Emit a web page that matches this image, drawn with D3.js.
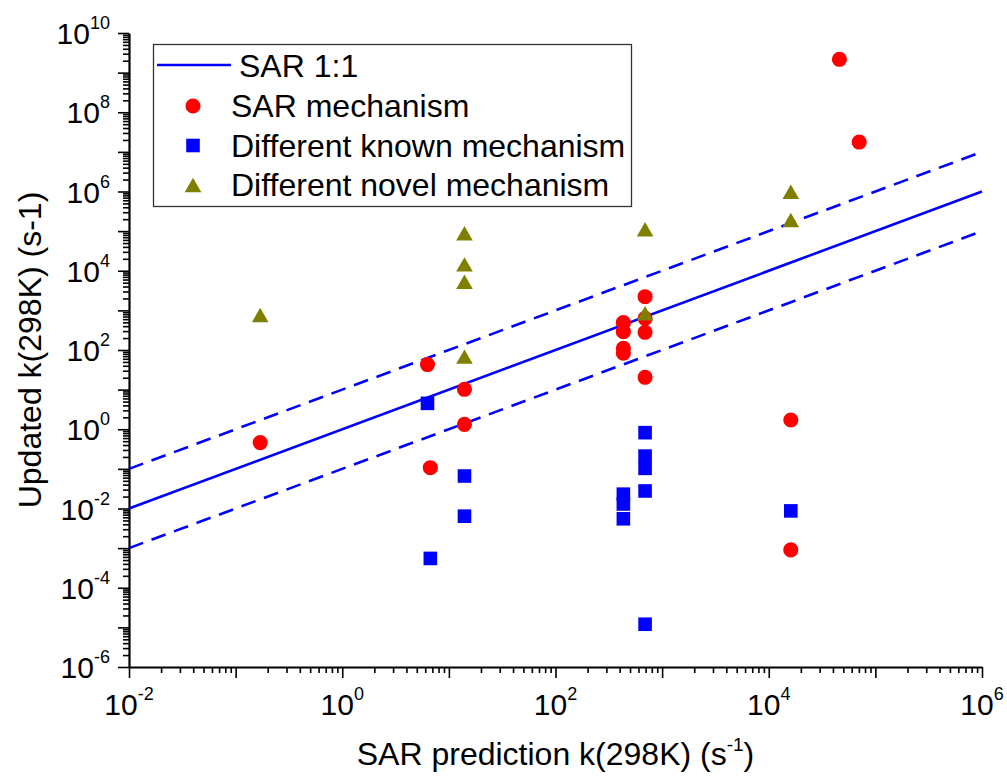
<!DOCTYPE html>
<html>
<head>
<meta charset="utf-8">
<script src="https://cdn.jsdelivr.net/npm/d3@7"></script>
<style>
  body { margin: 0; background: #fff; }
  text { font-family: "Liberation Sans", Arial, sans-serif; fill: #000; }
</style>
</head>
<body>
<svg id="chart" width="1007" height="777"></svg>
<script>
// values, rate constants in s^-1: [SAR prediction, updated]
const sarMechanism = [
  [0.17, 0.46], [6.3, 43], [6.7, 0.107], [14, 10.2], [14, 1.33],
  [433, 489], [433, 290], [433, 110], [433, 83],
  [692, 2210], [692, 630], [692, 280], [692, 20.5],
  [46000, 2.17e9], [70500, 1.77e7], [16100, 1.71], [16100, 9e-4]
];
const knownMechanism = [
  [6.3, 4.5], [6.7, 5.5e-4], [14, 0.066], [14, 0.0064],
  [433, 0.023], [433, 0.013], [433, 0.0055],
  [692, 0.82], [692, 0.21], [692, 0.103], [692, 0.0277], [692, 1.2e-5],
  [16100, 0.0087]
];
const novelMechanism = [
  [0.17, 764], [14, 88000], [14, 14500], [14, 5300], [14, 68],
  [692, 111000], [692, 843], [16100, 988000], [16100, 190000]
];
// 1:1 line and factor-of-ten bands
const ratioFactors = [1, 10, 0.1];
const xDomain = [1e-2, 1e6];
const yDomain = [1e-6, 1e10];
const legendLabels = ["SAR 1:1", "SAR mechanism", "Different known mechanism", "Different novel mechanism"];

const svg = d3.select("#chart");
const plotLeft = 129, plotRight = 982, plotTop = 33, plotBottom = 667;

const x = d3.scaleLog().domain(xDomain).range([plotLeft, plotRight]);
const y = d3.scaleLog().domain(yDomain).range([plotBottom, plotTop]);

// decades and the 2..9 steps between them
function decades(domain) {
  const out = [];
  for (let e = Math.log10(domain[0]); e <= Math.log10(domain[1]); e++) out.push(e);
  return out;
}
function minors(domain) {
  const out = [];
  decades(domain).slice(0, -1).forEach(e => {
    for (let m = 2; m <= 9; m++) out.push(m * Math.pow(10, e));
  });
  return out;
}
const xDec = decades(xDomain), yDec = decades(yDomain);

// bottom axis
const gx = svg.append("g").attr("transform", `translate(0,${plotBottom})`);
gx.call(d3.axisBottom(x).tickValues(minors(xDomain)).tickSize(6).tickSizeOuter(0).tickFormat(""));
gx.call(g => g.select(".domain").remove());
const gx2 = svg.append("g").attr("transform", `translate(0,${plotBottom})`);
gx2.call(d3.axisBottom(x).tickValues(xDec.map(e => Math.pow(10, e))).tickSize(11).tickSizeOuter(0).tickFormat(""));

// left axis
const gy = svg.append("g").attr("transform", `translate(${plotLeft},0)`);
gy.call(d3.axisLeft(y).tickValues(minors(yDomain)).tickSize(6).tickSizeOuter(0).tickFormat(""));
gy.call(g => g.select(".domain").remove());
const gy2 = svg.append("g").attr("transform", `translate(${plotLeft},0)`);
gy2.call(d3.axisLeft(y).tickValues(yDec.map(e => Math.pow(10, e))).tickSize(11).tickSizeOuter(0).tickFormat(""));

svg.selectAll(".tick line").attr("stroke", "#000").attr("stroke-width", 1.6);
svg.selectAll(".domain").attr("stroke", "#000").attr("stroke-width", 2.2);

// power-of-ten labels on every second decade
function powerLabel(sel, e) {
  sel.append("tspan").text("10");
  sel.append("tspan").attr("font-size", 18).attr("dy", -15).text(e);
}
xDec.filter(e => e % 2 === 0).forEach(e => {
  svg.append("text")
    .attr("x", x(Math.pow(10, e)))
    .attr("y", plotBottom + 48)
    .attr("text-anchor", "middle")
    .attr("font-size", 30)
    .call(powerLabel, e);
});
yDec.filter(e => e % 2 === 0).forEach(e => {
  svg.append("text")
    .attr("x", 110)
    .attr("y", y(Math.pow(10, e)) + 11)
    .attr("text-anchor", "end")
    .attr("font-size", 30)
    .call(powerLabel, e);
});

// axis titles
const xt = svg.append("text")
  .attr("x", (plotLeft + plotRight) / 2)
  .attr("y", 765)
  .attr("text-anchor", "middle")
  .attr("font-size", 32);
xt.append("tspan").text("SAR prediction k(298K) (s");
xt.append("tspan").attr("font-size", 19).attr("dy", -14).text("-1");
xt.append("tspan").attr("dy", 14).text(")");

svg.append("text")
  .attr("transform", `translate(41,${(plotTop + plotBottom) / 2}) rotate(-90)`)
  .attr("text-anchor", "middle")
  .attr("font-size", 32)
  .text("Updated k(298K) (s-1)");

// 1:1 and +/- one order of magnitude lines
const line = d3.line().x(d => x(d[0])).y(d => y(d[1]));
ratioFactors.forEach(f => {
  svg.append("path")
    .attr("d", line(xDomain.map(v => [v, v * f])))
    .attr("fill", "none")
    .attr("stroke", "#0000ff")
    .attr("stroke-width", 2.6)
    .attr("stroke-dasharray", f === 1 ? null : "15,9");
});

// triangle centred on its bounding box, like the original markers
const triangle = {
  draw(context, size) {
    const s = Math.sqrt(size * 4 / Math.sqrt(3));
    const h = s * Math.sqrt(3) / 2;
    context.moveTo(0, -h / 2);
    context.lineTo(s / 2, h / 2);
    context.lineTo(-s / 2, h / 2);
    context.closePath();
  }
};
const markers = [
  { data: sarMechanism, type: d3.symbolCircle, size: 180, color: "#ff0000" },
  { data: knownMechanism, type: d3.symbolSquare, size: 185, color: "#0000ff" },
  { data: novelMechanism, type: triangle, size: 120, color: "#808000" }
];
markers.forEach(m => {
  svg.append("g").selectAll("path")
    .data(m.data)
    .join("path")
    .attr("transform", d => `translate(${x(d[0])},${y(d[1])})`)
    .attr("d", d3.symbol().type(m.type).size(m.size))
    .attr("fill", m.color);
});

// legend
const lg = svg.append("g");
lg.append("rect")
  .attr("x", 153.5).attr("y", 44.5)
  .attr("width", 478).attr("height", 162)
  .attr("fill", "#fff")
  .attr("stroke", "#333")
  .attr("stroke-width", 1.3);
lg.append("line")
  .attr("x1", 157).attr("x2", 231)
  .attr("y1", 65).attr("y2", 65)
  .attr("stroke", "#0000ff").attr("stroke-width", 2.6);
lg.append("text").attr("x", 239).attr("y", 76.5).attr("font-size", 32).text(legendLabels[0]);
markers.forEach((m, i) => {
  const cy = 106 + i * 39.5;
  lg.append("path")
    .attr("transform", `translate(193,${cy})`)
    .attr("d", d3.symbol().type(m.type).size(m.size))
    .attr("fill", m.color);
  lg.append("text")
    .attr("x", 231)
    .attr("y", cy + 11)
    .attr("font-size", 32)
    .text(legendLabels[i + 1]);
});
</script>
</body>
</html>
